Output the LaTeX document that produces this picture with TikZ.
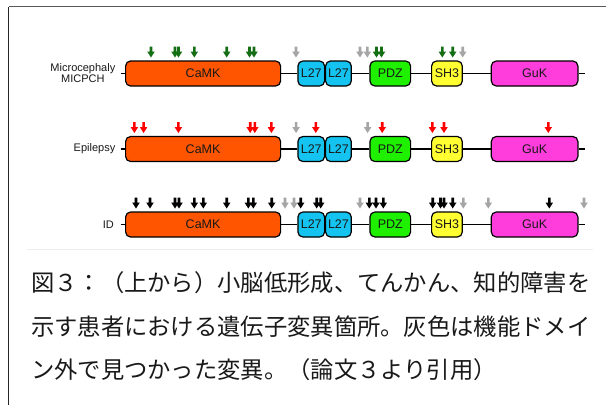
\documentclass[tikz,border=0pt]{standalone}
\usepackage{fontspec}
\setmainfont{Liberation Sans}
\newfontfamily\cjk{Noto Sans CJK JP}
\definecolor{camk}{RGB}{255,85,0}
\definecolor{lcyan}{RGB}{20,195,240}
\definecolor{pdz}{RGB}{30,240,0}
\definecolor{shy}{RGB}{255,255,50}
\definecolor{guk}{RGB}{255,60,220}
\definecolor{mgreen}{RGB}{20,110,20}
\definecolor{mred}{RGB}{255,0,0}
\definecolor{mgray}{RGB}{165,165,165}
\tikzset{
  dom/.style={draw=black, line width=1.2pt, rounded corners=5pt, minimum height=25pt,
    inner sep=0pt, anchor=west, font=\fontsize{12.5}{12.5}\selectfont, text=black!90},
  bb/.style={line width=1.2pt, black},
  rowlabel/.style={anchor=east, inner sep=0pt, align=center, font=\fontsize{11}{11}\selectfont, text=black!90},
  captext/.style={anchor=west, inner sep=0pt, font=\cjk\fontsize{23.3}{23.3}\selectfont, text=black!90},
  mut/.pic={\fill[pic actions] (-1.3,0) -- (1.3,0) -- (1.3,5) -- (3.8,5) -- (0,11) -- (-3.8,5) -- (-1.3,5) -- cycle;}
}
\newcommand\domrow[2]{%
  \coordinate (s#2) at (120.7,#1);
  \coordinate (e#2) at (584.5,#1);
  \node[dom, fill=camk, minimum width=155pt] (camk#2) at (125,#1) {CaMK};
  \node[dom, fill=lcyan, minimum width=26.7pt] (la#2) at (297.3,#1) {L27};
  \node[dom, fill=lcyan, minimum width=25.7pt] (lb#2) at (325,#1) {L27};
  \node[dom, fill=pdz, minimum width=40.7pt] (pdz#2) at (369.3,#1) {PDZ};
  \node[dom, fill=shy, minimum width=30.7pt] (sh#2) at (431,#1) {SH3};
  \node[dom, fill=guk, minimum width=86.6pt] (guk#2) at (490.7,#1) {GuK};
  \draw[bb] (s#2) -- (camk#2.west);
  \draw[bb] (camk#2.east) -- (la#2.west);
  \draw[bb] (lb#2.east) -- (pdz#2.west);
  \draw[bb] (pdz#2.east) -- (sh#2.west);
  \draw[bb] (sh#2.east) -- (guk#2.west);
  \draw[bb] (guk#2.east) -- (e#2);
}
\newcommand\muts[3]{\foreach \xx in {#3} {\pic[fill=#2] at (\xx,#1) {mut};}}
\begin{document}
\begin{tikzpicture}[x=1pt, y=-1pt]
\useasboundingbox (0,0) rectangle (606,405);
\fill[white] (0,0) rectangle (606,405);
% frame
\draw[line width=1.5pt, black!85] (8.5,405) -- (8.5,6.5);
\draw[line width=1.5pt, black!65] (8.5,6.5) -- (606,6.5);
% rows
\domrow{73.5}{1}
\domrow{149}{2}
\domrow{224.5}{3}
\node[rowlabel] (lab1) at (115.5,73.5) {Microcephaly\\MICPCH};
\node[rowlabel] (lab2) at (115.5,149) {Epilepsy};
\node[rowlabel] (lab3) at (114,224.5) {ID};
% mutations row 1
\muts{46.5}{mgreen}{151,175,178.5,194.3,226.7,249.5,254,376.5,381.5,442.3,452.7}
\muts{46.5}{mgray}{296,360,367.3,462.7}
% mutations row 2
\muts{122}{mred}{134.4,143.6,178.4,250.2,254.8,271.4,315.8,382.2,432.4,444,548.3}
\muts{122}{mgray}{296.1,367.6}
% mutations row 3
\muts{197.5}{black}{136,150,175,179,194.3,203.3,226.7,248.3,253.3,271.7,300.7,316.7,320.7,369.3,376,383.3,432.7,440.5,444,452.7,549.3}
\muts{197.5}{mgray}{285,294,360,463.3,488.3,584}
% separator
\draw[line width=0.8pt, black!7] (27,249) -- (593,249);
% caption
\node[captext] (c1) at (31,283) {図３：（上から）小脳低形成、てんかん、知的障害を};
\node[captext] (c2) at (31,327) {示す患者における遺伝子変異箇所。灰色は機能ドメイ};
\node[captext] (c3) at (31,370) {ン外で見つかった変異。（論文３より引用）};
\end{tikzpicture}
\end{document}
